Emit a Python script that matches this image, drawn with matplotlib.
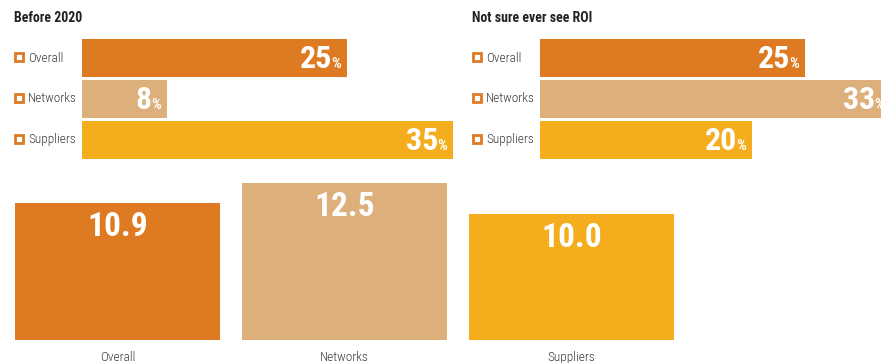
import os

import matplotlib
matplotlib.use('Agg')
import matplotlib.pyplot as plt
from matplotlib import font_manager as fm
from matplotlib.font_manager import FontProperties
from matplotlib.transforms import offset_copy

# ---------------------------------------------------------------------------
# Data
# ---------------------------------------------------------------------------
categories = ['Overall', 'Networks', 'Suppliers']
before_2020 = [25, 8, 35]
not_sure_roi = [25, 33, 20]
avg_values = [10.9, 12.5, 10.0]

panel_titles = ['Before 2020', 'Not sure ever see ROI']

colors = ['#DE7A22', '#DDAF7B', '#F3AD1D']
ICON = '#DE7A22'
LABEL = '#3c3c3c'
TITLE = '#222222'

W, H = 881, 363
PX_PER_PCT = 10.6        # horizontal bar scale
PX_PER_UNIT = 12.57      # column scale


def pick_font(weight, size):
    """Find a narrow/condensed face if one is installed ('bold', 'light' or 'regular')."""
    files = [f.fname for f in fm.fontManager.ttflist]
    keys = ['robotocondensed', 'liberationsansnarrow', 'dejavusanscondensed',
            'opensanscondensed']
    for want in ([weight, 'regular'] if weight == 'light' else [weight]):
        for key in keys:
            for fn in files:
                base = os.path.basename(fn).lower().replace('-', '').replace(' ', '').replace('_', '')
                if key not in base:
                    continue
                if 'italic' in base or 'oblique' in base:
                    continue
                rest = base.replace(key, '').split('.')[0]
                if want == 'bold':
                    ok = rest == 'bold'
                elif want == 'light':
                    ok = rest == 'light'
                else:
                    ok = rest in ('', 'regular')
                if ok:
                    return FontProperties(fname=fn, size=size)
    return FontProperties(family='DejaVu Sans',
                          weight='bold' if weight == 'bold' else 'normal', size=size)


fig = plt.figure(figsize=(W / 100, H / 100), dpi=100)
fig.patch.set_facecolor('white')


def px_axes(left, top, width, height):
    return fig.add_axes([left / W, 1 - (top + height) / H, width / W, height / H])


pct_texts = []   # (axes, value, row, '%' text) for placing the numbers later


def hbar_panel(left, title, values):
    ax = px_axes(left, 37.5, 420, 123)
    ax.set_xlim(0, 420 / PX_PER_PCT)
    ax.set_ylim(2.5, -0.5)
    ax.barh(range(len(values)), values, height=38 / 41, color=colors)
    ax.axis('off')

    fig.text((left - 68) / W, 1 - 22 / H, title, fontproperties=pick_font('bold', 10),
             color=TITLE, ha='left', va='baseline')

    icon_tr = offset_copy(ax.get_yaxis_transform(), fig=fig, x=-63, y=1.5, units='dots')
    text_tr = offset_copy(ax.get_yaxis_transform(), fig=fig, x=-54, y=0, units='dots')
    for i, (cat, v) in enumerate(zip(categories, values)):
        ax.plot([0], [i], marker='s', ms=5.4, mfc='white', mec=ICON, mew=2.0,
                transform=icon_tr, clip_on=False)
        ax.text(0, i, cat, transform=text_tr, ha='left', va='center',
                color=LABEL, fontproperties=pick_font('light', 9.5))
        t = ax.annotate('%', xy=(v, i), xytext=(-6, -10), textcoords='offset pixels',
                        ha='right', va='baseline', color='white',
                        fontproperties=pick_font('bold', 11))
        pct_texts.append((ax, v, i, t))


hbar_panel(82, panel_titles[0], before_2020)
hbar_panel(540, panel_titles[1], not_sure_roi)

# columns
ax2 = px_axes(4, 340 - 14 * PX_PER_UNIT, 3 * 227, 14 * PX_PER_UNIT)
ax2.set_xlim(-0.5, 2.5)
ax2.set_ylim(0, 14)
ax2.bar(range(len(avg_values)), avg_values, width=205 / 227, color=colors)
ax2.axis('off')
for i, (cat, v) in enumerate(zip(categories, avg_values)):
    ax2.annotate(f'{v:.1f}', xy=(i, v), xytext=(0, -33), textcoords='offset pixels',
                 ha='center', va='baseline', color='white',
                 fontproperties=pick_font('bold', 24))
    ax2.annotate(cat, xy=(i, 0), xytext=(0, -21), textcoords='offset pixels',
                 ha='center', va='baseline', color=LABEL,
                 fontproperties=pick_font('light', 9.5), annotation_clip=False)

# big numbers sit just left of their '%' sign
fig.canvas.draw()
renderer = fig.canvas.get_renderer()
for ax, v, i, t in pct_texts:
    w = t.get_window_extent(renderer).width
    ax.annotate(f'{v}', xy=(v, i), xytext=(-6 - w + 1, -10), textcoords='offset pixels',
                ha='right', va='baseline', color='white',
                fontproperties=pick_font('bold', 23))

fig.savefig('out.png', dpi=100)
